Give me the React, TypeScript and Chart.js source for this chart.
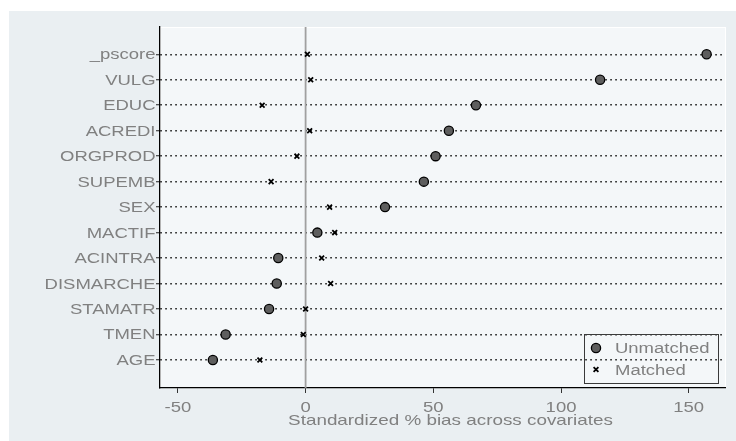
import React, { useEffect, useRef } from "react";
import { Chart, registerables } from "chart.js";

Chart.register(...registerables);

const COVARIATES = [
  "_pscore", "VULG", "EDUC", "ACREDI", "ORGPROD", "SUPEMB", "SEX",
  "MACTIF", "ACINTRA", "DISMARCHE", "STAMATR", "TMEN", "AGE",
];
const UNMATCHED = [157, 115.3, 66.7, 56.1, 50.9, 46.3, 31.1, 4.6, -10.7, -11.3, -14.3, -31.3, -36.3];
const MATCHED = [0.7, 2.0, -17.0, 1.6, -3.4, -13.5, 9.4, 11.4, 6.3, 9.8, 0.0, -0.9, -17.9];
const SERIES_NAMES = ["Unmatched", "Matched"];
const X_TICKS = [-50, 0, 50, 100, 150];
const X_MIN = -57;
const X_MAX = 164.2;
const Y_MIN = -1.07;
const Y_MAX = 13.1;
const REF_VALUE = 0;
const X_TITLE = "Standardized % bias across covariates";

const FONT = '"Liberation Sans", Arial, sans-serif';
const SX = 1.32;
const TEXT_COLOR = "#808080";

function stretchText(ctx: CanvasRenderingContext2D, text: string, x: number, y: number, align: CanvasTextAlign, size: number, sx: number) {
  ctx.save();
  ctx.translate(x, y);
  ctx.scale(sx, 1);
  ctx.font = `${size}px ${FONT}`;
  ctx.fillStyle = TEXT_COLOR;
  ctx.textAlign = align;
  ctx.textBaseline = "alphabetic";
  ctx.fillText(text, 0, 0);
  ctx.restore();
}

function drawMarker(ctx: CanvasRenderingContext2D, ds: any, x: number, y: number) {
  ctx.save();
  const r = ds.pointRadius;
  ctx.lineWidth = ds.borderWidth;
  ctx.strokeStyle = ds.borderColor;
  ctx.fillStyle = ds.backgroundColor;
  if (ds.pointStyle === "circle") {
    ctx.beginPath();
    ctx.arc(x, y, r, 0, Math.PI * 2);
    ctx.fill();
    ctx.stroke();
  } else {
    const d = r * Math.SQRT1_2;
    ctx.beginPath();
    ctx.moveTo(x - d, y - d);
    ctx.lineTo(x + d, y + d);
    ctx.moveTo(x + d, y - d);
    ctx.lineTo(x - d, y + d);
    ctx.stroke();
  }
  ctx.restore();
}

const decorPlugin = {
  id: "decor",
  beforeDraw(chart: any) {
    const { ctx, width, height, chartArea: a } = chart;
    ctx.save();
    ctx.fillStyle = "#ffffff";
    ctx.fillRect(0, 0, width, height);
    ctx.fillStyle = "#eaeff2";
    ctx.fillRect(9, 11, width - 9, height - 11);
    ctx.fillStyle = "#f4f7f9";
    ctx.fillRect(a.left, a.top, a.right - a.left, a.bottom - a.top);
    ctx.strokeStyle = "#ffffff";
    ctx.lineWidth = 1;
    ctx.strokeRect(a.left + 0.5, a.top + 0.5, a.right - a.left, a.bottom - a.top - 1);
    ctx.restore();
  },
  beforeDatasetsDraw(chart: any) {
    const { ctx, chartArea: a, scales } = chart;
    const px = scales.x.getPixelForValue(REF_VALUE);
    ctx.save();
    ctx.strokeStyle = "#a0a0a0";
    ctx.lineWidth = 1.8;
    ctx.beginPath();
    ctx.moveTo(px, a.top);
    ctx.lineTo(px, a.bottom);
    ctx.stroke();
    ctx.restore();
  },
  afterDraw(chart: any) {
    const { ctx, chartArea: a, scales } = chart;
    // y labels
    scales.y.ticks.forEach((t: any) => {
      const py = scales.y.getPixelForValue(t.value);
      stretchText(ctx, COVARIATES[t.value], a.left - 4.5, py + 5, "right", 14, SX);
    });
    // x labels
    scales.x.ticks.forEach((t: any) => {
      const px = scales.x.getPixelForValue(t.value);
      stretchText(ctx, String(t.value), px, a.bottom + 24, "center", 14, SX);
    });
    // x title
    stretchText(ctx, X_TITLE, (a.left + a.right) / 2 + 8, a.bottom + 36.5, "center", 14.5, 1.3);
    // legend
    const bw = 134, bh = 49;
    const bx = a.right - 7 - bw;
    const by = a.bottom - 5 - bh;
    ctx.save();
    ctx.strokeStyle = "#3a3a3a";
    ctx.lineWidth = 1;
    ctx.strokeRect(Math.round(bx) + 0.5, Math.round(by) + 0.5, bw, bh);
    ctx.restore();
    chart.data.datasets.forEach((ds: any, i: number) => {
      const ry = by + 14 + i * 21.5;
      drawMarker(ctx, ds, bx + 12, ry);
      stretchText(ctx, ds.label, bx + 31, ry + 5, "left", 14, SX);
    });
  },
};

export default function App() {
  const ref = useRef<HTMLCanvasElement | null>(null);
  useEffect(() => {
    if (!ref.current) return;
    const chart = new Chart(ref.current, {
      type: "scatter",
      data: {
        datasets: [
          {
            label: SERIES_NAMES[0],
            data: UNMATCHED.map((v, i) => ({ x: v, y: i })),
            pointStyle: "circle",
            pointRadius: 4.6,
            backgroundColor: "#5e5e5e",
            borderColor: "#000000",
            borderWidth: 1.3,
          } as any,
          {
            label: SERIES_NAMES[1],
            data: MATCHED.map((v, i) => ({ x: v, y: i })),
            pointStyle: "crossRot",
            pointRadius: 3.4,
            backgroundColor: "#000000",
            borderColor: "#000000",
            borderWidth: 1.8,
          } as any,
        ],
      },
      options: {
        animation: false,
        responsive: false,
        devicePixelRatio: 1,
        layout: { padding: { top: 27, right: 11, left: 0, bottom: 0 } },
        plugins: { legend: { display: false }, tooltip: { enabled: false } },
        scales: {
          x: {
            type: "linear",
            min: X_MIN,
            max: X_MAX,
            afterBuildTicks: (s: any) => { s.ticks = X_TICKS.map((v) => ({ value: v })); },
            afterFit: (s: any) => { s.height = 53; },
            ticks: { display: false },
            grid: { drawOnChartArea: false, drawTicks: true, tickLength: 5, tickColor: "#333333", tickWidth: 1 },
            border: { display: true, color: "#000000", width: 1.3 },
          },
          y: {
            type: "linear",
            reverse: true,
            min: Y_MIN,
            max: Y_MAX,
            afterBuildTicks: (s: any) => { s.ticks = COVARIATES.map((_, i) => ({ value: i })); },
            afterFit: (s: any) => { s.width = 160; },
            ticks: { display: false },
            grid: { color: "#111111", lineWidth: 1.5, drawTicks: true, tickLength: 4, tickColor: "#222222", tickWidth: 1 },
            border: { display: true, color: "#000000", width: 1.3, dash: [1.5, 3.5] },
          },
        },
      } as any,
      plugins: [decorPlugin],
    });
    return () => chart.destroy();
  }, []);
  return (
    <div style={{ position: "fixed", left: 0, top: 0, width: 736, height: 441 }}>
      <canvas ref={ref} width={736} height={441} style={{ display: "block" }} />
    </div>
  );
}
